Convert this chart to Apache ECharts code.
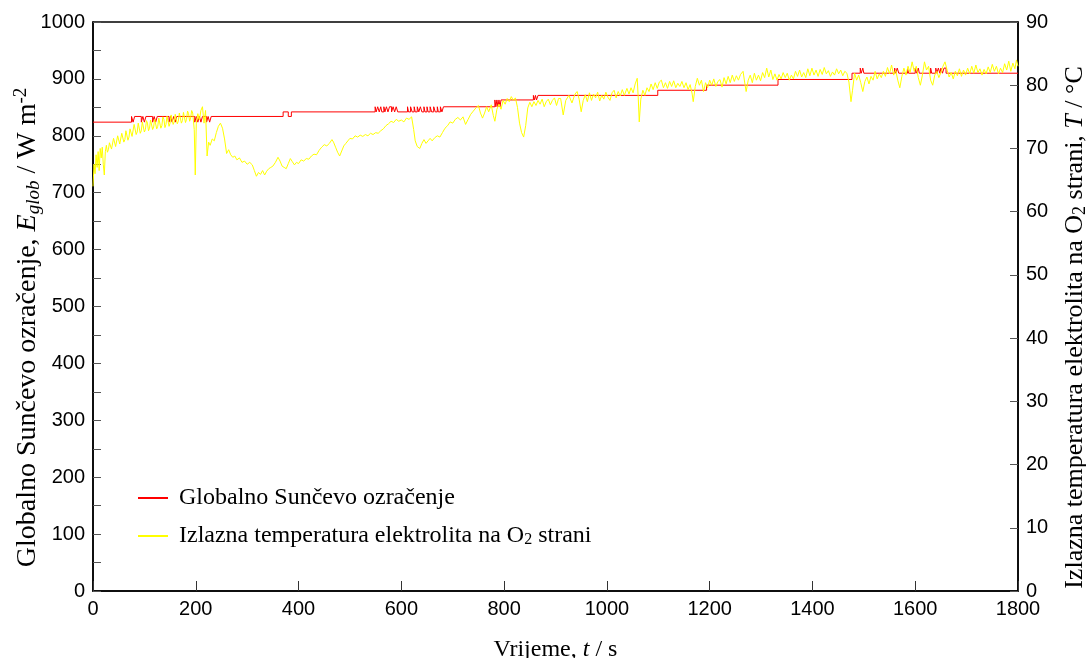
<!DOCTYPE html>
<html>
<head>
<meta charset="utf-8">
<script src="https://cdn.jsdelivr.net/npm/echarts@6/dist/echarts.min.js"></script>
<style>html,body{margin:0;padding:0;background:#fff}#c{width:1086px;height:658px}</style>
</head>
<body>
<div id="c"></div>
<script>
// x range (s)
const xMin = 0, xMax = 1800, xStep = 200;
// left axis (W m-2)
const yLeftMin = 0, yLeftMax = 1000, yLeftStep = 100;
// right axis (°C)
const yRightMin = 0, yRightMax = 90, yRightStep = 10;

const seriesNames = ['Globalno Sunčevo ozračenje', 'Izlazna temperatura elektrolita na O2 strani'];

// Global solar irradiance, change points [t (s), E (W m-2)] (step line)
const irradianceData = [
[0,824],[75,834],[78,824],[81,834],[94,824],[97,834],[100,824],[103,834],[116,824],[119,834],[122,824],[125,834],
[148,824],[151,834],[154,824],[157,834],[160,824],[163,834],[198,824],[201,834],[204,824],[207,834],[210,824],[213,834],
[221,824],[224,834],[227,824],[230,834],[370,842],[380,834],[386,842],
[549,851],[551,842],[554,851],[557,842],[560,851],[562,842],[566,851],[568,842],[571,851],[574,842],[577,851],[581,842],
[584,851],[587,842],[590,851],[593,842],[612,851],[614,842],[618,851],[621,842],[625,851],[627,842],[631,851],[634,842],
[637,851],[640,842],[644,851],[646,842],[650,851],[652,842],[656,851],[659,842],[663,851],[666,842],[670,851],[672,842],
[676,851],[679,842],[682,851],
[782,863],[784,851],[786,863],[788,851],[790,863],[792,851],[794,863],
[857,871],[859,863],[861,871],[863,863],[866,871],
[1099,880],[1194,889],[1333,899],[1477,910],
[1493,919],[1495,910],[1498,919],[1500,910],[1560,919],[1562,910],[1565,919],[1568,910],[1585,919],[1587,910],
[1600,919],[1603,910],[1606,919],[1608,910],[1630,919],[1632,910],[1640,919],[1642,910],[1645,919],[1648,910],
[1650,919],[1653,910],[1656,919],[1660,910],[1800,910]
];

// Electrolyte outlet temperature on O2 side, [t (s), T (°C)]
const temperatureData = [
[0,64.0],[2,67.5],[4,66.0],[6,69.0],[8,67.0],[10,69.5],[12,66.5],[14,70.0],[16,68.5],[18,70.2],[20,67.5],[22,65.8],[24,69.5],
[26,70.5],[28,69.4],[30,69.8],[32,70.9],[34,71.0],[36,69.9],[38,70.2],[40,71.6],[42,71.5],[44,70.3],[46,70.6],[48,72.0],[50,71.8],[52,70.7],[54,71.0],[56,72.4],[58,72.3],[60,71.0],[62,71.4],[64,72.8],[66,72.6],[68,71.3],[70,71.8],
[72,73.1],[74,73.0],[76,71.9],[78,72.2],[80,73.8],[82,73.5],[84,72.2],[86,72.6],[88,74.0],[90,73.7],[92,72.4],[94,72.8],[96,74.2],[98,73.9],[100,72.6],[102,73.0],[104,74.4],[106,74.0],[108,72.8],[110,73.2],[112,74.5],[114,74.2],[116,73.0],[118,73.4],
[120,74.6],[122,74.3],[124,73.1],[126,73.5],[128,74.8],[130,74.5],[132,73.2],[134,73.6],[136,75.0],[138,74.6],[140,73.3],[142,73.8],[144,75.1],[146,74.8],[148,73.5],[150,74.0],[152,75.3],[154,75.0],[156,73.8],[158,74.2],[160,75.4],[162,75.2],
[164,73.9],[166,74.3],[168,75.6],[170,75.3],[172,74.0],[174,74.4],[176,75.7],[178,75.4],[180,74.1],[182,74.6],[184,75.9],[186,75.5],[188,74.3],[190,74.8],[192,76.0],[194,75.6],[197,73.0],[199,65.8],[201,74.0],
[204,75.5],[207,74.5],[210,76.0],[213,76.6],[216,74.0],[219,76.0],[222,68.8],[225,71.0],[228,70.5],[232,71.5],[236,71.2],
[240,72.5],[244,73.5],[248,74.0],[252,73.2],[256,71.5],[260,69.2],[264,69.8],[268,69.0],[272,68.6],[276,68.8],[280,68.2],
[285,68.5],[290,67.8],[295,68.0],[300,67.5],[305,67.8],[310,67.4],[314,66.5],[318,65.6],[322,66.2],[326,65.9],[330,66.5],
[334,65.8],[338,66.4],[342,66.8],[346,67.0],[350,67.2],[355,67.8],[360,68.6],[364,68.0],[368,67.2],[372,67.0],[376,66.8],
[380,67.6],[384,68.4],[388,67.9],[392,67.4],[396,67.8],[400,67.6],[405,68.2],[410,68.0],[415,68.4],[420,68.3],[425,68.8],
[430,69.1],[435,69.0],[440,69.7],[445,70.2],[450,70.6],[455,70.4],[460,70.8],[465,71.4],[468,71.0],[472,70.2],[476,69.4],
[480,68.8],[484,69.6],[488,70.4],[492,70.8],[496,71.2],[500,71.6],[505,71.5],[510,72.0],[515,71.8],[520,72.1],[525,71.9],
[530,72.2],[535,72.0],[540,72.4],[545,72.2],[550,72.5],[555,72.4],[560,72.8],[565,73.1],[570,73.6],[575,73.9],[580,74.3],
[585,74.1],[590,74.6],[595,74.3],[600,74.5],[605,74.2],[610,74.8],[615,74.6],[620,75.0],[624,73.0],[627,71.2],[631,70.3],
[636,70.0],[640,70.8],[644,71.4],[648,70.8],[652,71.2],[656,71.6],[660,71.2],[665,71.7],[670,72.0],[675,71.8],[680,72.5],
[685,73.2],[690,73.6],[695,74.2],[700,74.0],[705,74.6],[710,74.9],[715,74.5],[720,75.0],[725,73.8],[730,74.6],[735,75.4],
[740,75.9],[745,76.4],[750,76.8],[754,75.6],[758,74.8],[762,75.6],[766,76.6],[770,75.8],[775,76.9],[779,75.2],[782,74.3],
[786,76.2],[790,77.0],[794,76.2],[798,77.6],[802,77.0],[806,77.9],[810,77.4],[814,78.2],[818,77.6],[822,78.0],[826,76.5],
[830,74.0],[834,72.5],[838,71.8],[842,73.6],[846,76.4],[850,77.3],[854,76.6],[858,77.4],[862,76.8],[866,77.6],[870,77.0],
[874,77.8],[878,76.6],[882,77.4],[886,77.8],[890,76.9],[894,77.6],[898,78.0],[902,76.8],[906,77.9],
[910,77.9],[915,75.3],[920,77.6],[926,78.4],[932,77.2],[938,78.6],[942,79.0],[946,77.8],[950,75.8],[954,77.6],[958,78.5],
[962,77.4],[966,78.8],[970,77.6],[974,78.6],[978,78.0],[982,78.9],[986,77.5],[990,78.4],[994,77.8],[998,78.9],[1002,78.1],
[1006,77.6],[1010,78.8],[1014,79.2],[1018,78.0],[1022,79.0],[1026,78.3],[1030,79.3],[1034,78.4],[1039,79.5],[1043,78.6],
[1047,79.6],[1051,78.8],[1055,80.2],[1059,81.1],[1061,78.0],[1063,74.2],[1066,77.8],[1070,79.2],[1074,78.4],[1078,79.6],
[1082,79.0],[1086,80.2],[1090,79.3],[1094,80.4],[1098,79.5],[1102,80.5],[1106,80.8],[1110,79.6],[1114,80.4],[1118,79.5],
[1122,80.6],[1126,79.8],[1130,80.7],[1134,79.6],[1138,80.3],[1142,79.8],[1146,80.6],[1150,79.6],[1154,80.4],[1158,79.3],
[1162,80.1],[1166,78.6],[1168,77.4],[1172,79.8],[1176,81.1],[1180,80.0],[1184,80.8],[1188,79.0],[1192,80.4],[1196,79.6],
[1200,80.8],[1204,80.0],[1208,81.0],[1212,79.8],[1216,80.6],[1220,80.9],[1224,79.7],[1228,81.2],[1232,80.2],[1236,81.4],
[1240,80.4],[1244,81.6],[1248,80.6],[1252,81.5],[1256,80.8],[1260,81.7],[1265,82.2],[1268,80.5],[1271,79.0],[1275,80.8],
[1279,81.6],[1283,80.4],[1287,81.9],[1291,80.8],[1295,81.6],[1299,80.7],[1303,82.0],[1307,81.2],[1311,82.7],[1315,81.3],
[1319,82.4],[1323,80.9],[1327,81.8],[1331,80.8],[1335,81.7],[1339,81.0],[1343,82.0],[1347,81.2],[1351,81.9],[1355,80.8],
[1359,81.6],[1363,81.0],[1367,82.2],[1371,81.4],[1375,82.4],[1379,81.3],[1383,82.0],[1387,81.2],[1391,82.6],[1395,81.5],
[1399,82.7],[1403,81.6],[1407,82.4],[1411,81.4],[1415,82.5],[1419,81.7],[1423,82.8],[1427,81.8],[1431,82.3],[1435,81.4],
[1439,82.1],[1443,81.6],[1447,82.6],[1451,81.8],[1455,82.4],[1459,81.5],[1463,82.2],[1467,81.9],[1471,80.5],[1475,77.4],
[1478,79.2],[1482,81.9],[1486,80.8],[1490,81.6],[1494,80.4],[1498,79.0],[1502,80.6],[1506,81.3],[1510,80.2],[1514,81.4],
[1518,80.8],[1522,82.2],[1526,81.0],[1530,81.8],[1534,81.2],[1538,82.2],[1542,81.4],[1546,82.8],[1550,81.8],[1554,83.2],
[1558,81.6],[1562,82.4],[1566,80.8],[1570,79.6],[1574,81.4],[1578,82.7],[1582,81.6],[1586,83.0],[1590,82.0],[1594,83.7],
[1598,82.2],[1602,83.0],[1606,81.2],[1610,80.0],[1614,81.6],[1618,83.7],[1622,82.4],[1626,83.0],[1630,80.8],[1634,80.0],
[1638,81.6],[1642,82.2],[1646,81.2],[1650,82.0],[1654,83.0],[1658,83.7],[1662,82.4],[1666,81.3],[1670,82.0],[1674,81.0],
[1678,82.2],[1682,81.5],[1686,82.6],[1690,81.4],[1694,82.4],[1698,81.6],[1702,82.7],[1706,81.8],[1710,83.0],[1714,81.9],
[1718,83.2],[1722,82.0],[1726,82.6],[1730,81.6],[1734,82.5],[1738,81.8],[1742,82.9],[1746,82.0],[1750,83.3],[1754,82.2],
[1758,83.0],[1762,81.8],[1766,82.7],[1770,82.0],[1774,83.4],[1778,82.4],[1782,83.8],[1786,82.2],[1790,83.5],[1794,82.6],
[1797,84.0],[1800,83.0]
];

const serif = '"Liberation Serif", "Times New Roman", serif';
const sans = '"Liberation Sans", Arial, sans-serif';
function makeRich(size) {
  const sub = Math.round(size * 0.68);
  return {
    n: {fontFamily: serif, fontSize: size, color: '#000'},
    i: {fontFamily: serif, fontSize: size, color: '#000', fontStyle: 'italic'},
    si: {fontFamily: serif, fontSize: sub, color: '#000', fontStyle: 'italic', verticalAlign: 'bottom', padding: [Math.round(size * 0.33), 0, 0, 0]},
    s: {fontFamily: serif, fontSize: sub, color: '#000', verticalAlign: 'bottom', padding: [Math.round(size * 0.33), 0, 0, 0]},
    sup: {fontFamily: serif, fontSize: sub, color: '#000', verticalAlign: 'top', padding: [0, 0, Math.round(size * 0.42), 0]}
  };
}
const plain = function (v) { return String(v); };
const tickLabel = {fontFamily: sans, fontSize: 20, color: '#000', formatter: plain};

const chart = echarts.init(document.getElementById('c'), null, {renderer: 'canvas'});
chart.setOption({
  animation: false,
  backgroundColor: '#fff',
  grid: {left: 93, right: 68, top: 22, bottom: 67, outerBoundsMode: 'none', containLabel: false,
         show: true, borderColor: '#000', borderWidth: 1.5, backgroundColor: 'transparent'},
  legend: {
    left: 133, top: 481, orient: 'vertical', itemGap: 14, itemWidth: 30, itemHeight: 2,
    data: [{name: seriesNames[0], icon: 'rect'}, {name: seriesNames[1], icon: 'rect'}],
    formatter: function (n) {
      if (n === seriesNames[1]) return '{n|Izlazna temperatura elektrolita na O}{s|2}{n| strani}';
      return '{n|' + n + '}';
    },
    textStyle: {fontFamily: serif, fontSize: 24, color: '#000', padding: [0, 0, 0, 6], rich: makeRich(24)}
  },
  xAxis: {
    type: 'value', min: xMin, max: xMax, interval: xStep,
    name: '{n|Vrijeme, }{i|t}{n| / s}', nameLocation: 'middle', nameGap: 47, nameMoveOverlap: false,
    nameTextStyle: {rich: makeRich(24)},
    axisLine: {lineStyle: {color: '#000', width: 1.5}},
    axisTick: {inside: true, length: 10, lineStyle: {color: '#333'}},
    axisLabel: Object.assign({margin: 8}, tickLabel),
    splitLine: {show: false}
  },
  yAxis: [{
    type: 'value', min: yLeftMin, max: yLeftMax, interval: yLeftStep, position: 'left',
    name: '{n|Globalno Sunčevo ozračenje, }{i|E}{si|glob}{n| / W m}{sup|-2}',
    nameLocation: 'middle', nameRotate: 90, nameGap: 50, nameMoveOverlap: false,
    nameTextStyle: {rich: makeRich(28), padding: [0, 42, 0, 0]},
    axisLine: {show: true, lineStyle: {color: '#000', width: 1.5}},
    axisTick: {inside: true, length: 8, lineStyle: {color: '#555'}},
    minorTick: {show: true, splitNumber: 2, length: 8, lineStyle: {color: '#555'}},
    axisLabel: Object.assign({margin: 8}, tickLabel),
    splitLine: {show: false}
  }, {
    type: 'value', min: yRightMin, max: yRightMax, interval: yRightStep, position: 'right',
    name: '{n|Izlazna temperatura elektrolita na O}{s|2}{n| strani, }{i|T}{n| / °C}',
    nameLocation: 'middle', nameRotate: 90, nameGap: 44, nameMoveOverlap: false,
    nameTextStyle: {rich: makeRich(26), padding: [0, 42, 0, 0]},
    axisLine: {show: true, lineStyle: {color: '#000', width: 1.5}},
    axisTick: {inside: true, length: 8, lineStyle: {color: '#555'}},
    axisLabel: Object.assign({margin: 8}, tickLabel),
    splitLine: {show: false}
  }],
  series: [{
    name: seriesNames[0], type: 'line', yAxisIndex: 0, step: 'end', showSymbol: false,
    data: irradianceData, color: '#ff0000', lineStyle: {color: '#ff0000', width: 1}
  }, {
    name: seriesNames[1], type: 'line', yAxisIndex: 1, showSymbol: false,
    data: temperatureData, color: '#ffff00', lineStyle: {color: '#ffff00', width: 1}
  }]
});
</script>
</body>
</html>
